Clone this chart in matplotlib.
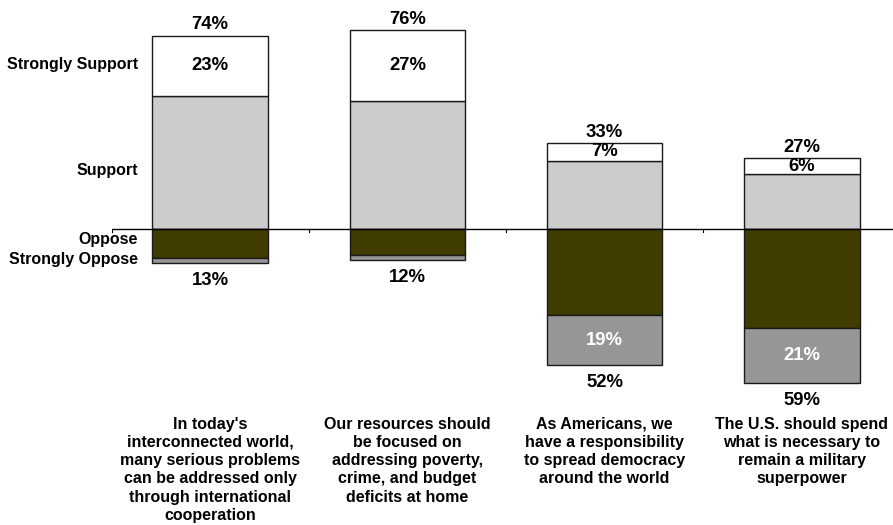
import numpy as np
import matplotlib
matplotlib.use('Agg')
from matplotlib import pyplot as plt

plt.rcParams['font.family'] = ['Liberation Sans', 'DejaVu Sans']
plt.rcParams['font.weight'] = 'bold'

statements = [
    "In today's\ninterconnected world,\nmany serious problems\ncan be addressed only\nthrough international\ncooperation",
    "Our resources should\nbe focused on\naddressing poverty,\ncrime, and budget\ndeficits at home",
    "As Americans, we\nhave a responsibility\nto spread democracy\naround the world",
    "The U.S. should spend\nwhat is necessary to\nremain a military\nsuperpower",
]
strongly_support = [23, 27, 7, 6]
support = [51, 49, 26, 21]
oppose = [11, 10, 33, 38]
strongly_oppose = [2, 2, 19, 21]
total_support = [74, 76, 33, 27]
total_oppose = [13, 12, 52, 59]

fig = plt.figure(figsize=(8.93, 5.25), dpi=100)
ax = fig.add_axes([111.5 / 893, 0, 789 / 893, 1])

x = np.arange(len(statements))
w = 0.585
edge = dict(edgecolor='#1a1a1a', linewidth=1)

ax.bar(x, support, w, color='#cccccc', **edge)
ax.bar(x, strongly_support, w, bottom=support, color='white', **edge)
ax.bar(x, [-v for v in oppose], w, color='#403c00', **edge)
ax.bar(x, [-v for v in strongly_oppose], w, bottom=[-v for v in oppose],
       color='#969696', **edge)

ax.set_xlim(-0.5, 3.5)
ax.set_ylim(-113.2, 87.6)
ax.axhline(0, color='black', linewidth=1, zorder=3)
for t in [-0.5, 0.5, 1.5, 2.5]:
    ax.plot([t, t], [0, -1.2], color='black', linewidth=0.8, zorder=3)
ax.axis('off')

for i in x:
    top = support[i] + strongly_support[i]
    bottom = -(oppose[i] + strongly_oppose[i])
    ax.annotate(f'{total_support[i]}%', (i, top), xytext=(0, 1.5),
                textcoords='offset points', ha='center', va='bottom', fontsize=13.3)
    ax.text(i, support[i] + strongly_support[i] / 2, f'{strongly_support[i]}%',
            ha='center', va='center', fontsize=13.3)
    if strongly_oppose[i] >= 5:
        ax.text(i, -oppose[i] - strongly_oppose[i] / 2, f'{strongly_oppose[i]}%',
                ha='center', va='center', fontsize=13.3, color='white')
    ax.annotate(f'{total_oppose[i]}%', (i, bottom), xytext=(0, -6.5),
                textcoords='offset points', ha='center', va='top', fontsize=13.3)
    ax.text(i, -71.8, statements[i], ha='center', va='top', fontsize=11.5,
            linespacing=1.27)

# row labels on the left
for label, ypx in [('Strongly Support', 65), ('Support', 171),
                   ('Oppose', 240), ('Strongly Oppose', 259)]:
    fig.text(138 / 893, 1 - ypx / 525, label, ha='right', va='center', fontsize=11.5)

fig.savefig('out.png', dpi=100)
